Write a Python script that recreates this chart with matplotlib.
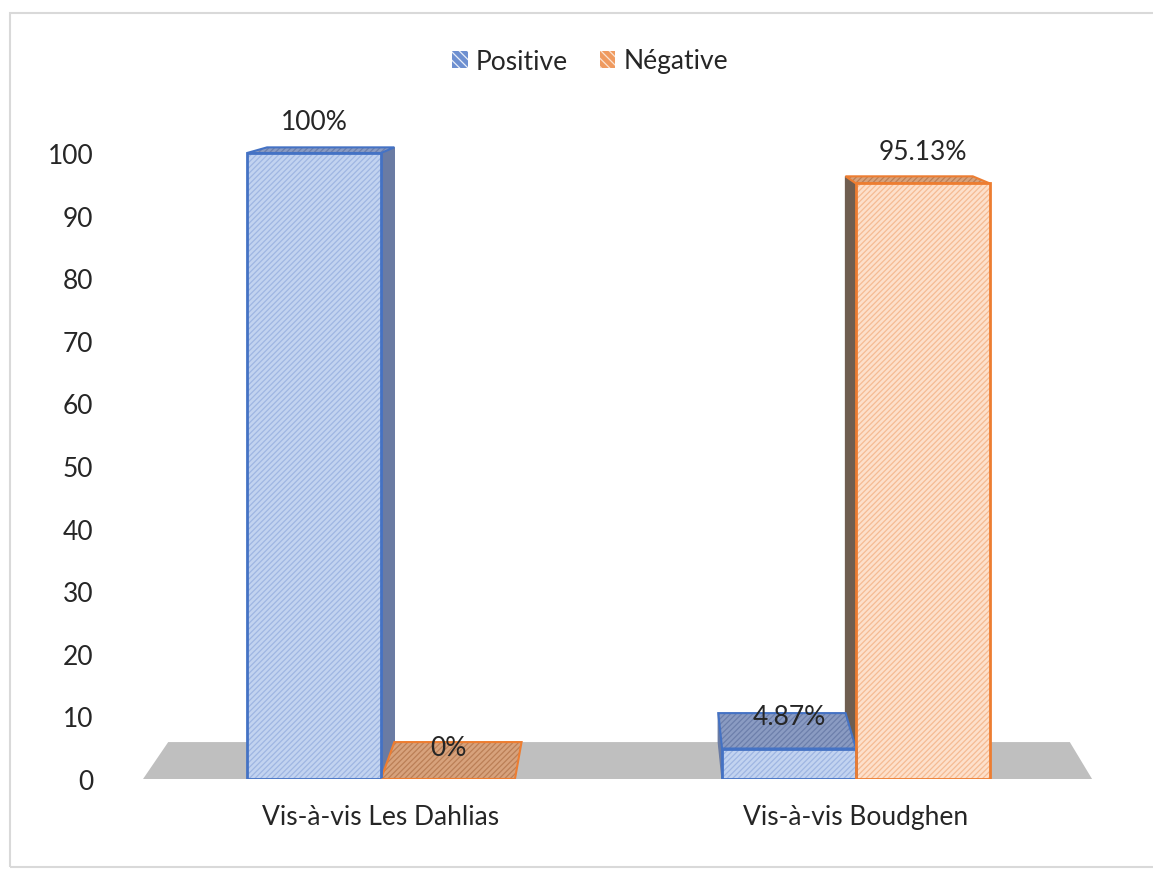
import matplotlib
matplotlib.use("Agg")
import matplotlib.pyplot as plt
from matplotlib.patches import Polygon, Patch, Rectangle
import numpy as np

# ---------------- data ----------------
categories = ["Vis-à-vis Les Dahlias", "Vis-à-vis Boudghen"]
positive = [100, 4.87]
negative = [0, 95.13]
positive_labels = ["100%", "4.87%"]
negative_labels = ["0%", "95.13%"]
series_names = ["Positive", "Négative"]
yticks = [0, 10, 20, 30, 40, 50, 60, 70, 80, 90, 100]

plt.rcParams["font.family"] = ["Lato", "DejaVu Sans"]
plt.rcParams["hatch.linewidth"] = 0.9

W, H = 1153, 870
fig = plt.figure(figsize=(W / 100, H / 100), dpi=100)

# axes placed in pixels: y=0 at 780px from top, 6.26 px per unit; x: group 0 at 381px, 475 px per group
px_unit_y = 6.26
px_unit_x = 475.0
x0_px, y0_px = 381.0, 780.0
ax_left, ax_right = 110, 1140
ymax = 110
ax = fig.add_axes([ax_left / W, (H - y0_px) / H, (ax_right - ax_left) / W, ymax * px_unit_y / H])
ax.set_xlim((ax_left - x0_px) / px_unit_x, (ax_right - x0_px) / px_unit_x)
ax.set_ylim(0, ymax)
for s in ax.spines.values():
    s.set_visible(False)

# fake perspective: back plane = scaled toward vanishing point
VX, VY, S = 0.56, 118.0, 0.95


def back(x, y):
    return VX + (x - VX) * S, VY + (y - VY) * S


# floor
xs = np.arange(len(categories))
fl, fr = xs[0] - 0.501, xs[-1] + 0.497
ax.add_patch(Polygon([(fl, 0), (fr, 0), back(fr, 0), back(fl, 0)],
                     closed=True, facecolor="#bfbfbf", edgecolor="none", zorder=1))

width = 0.282
styles = [
    dict(fill="#c2d3f0", hatch_c="#9fb6e2", edge="#4472c4",
         top="#8a9bc2", top_h="#6d7fab", side="#6a7ba3"),
    dict(fill="#fde0cb", hatch_c="#f5bb93", edge="#ed7d31",
         top="#d7a27c", top_h="#bb7f56", side="#6f5e50"),
]
series = [positive, negative]
offsets = [-width / 2, width / 2]

# side faces
for vals, off, st in zip(series, offsets, styles):
    for xc, h in zip(xs, vals):
        if h <= 0:
            continue
        a, b = xc + off - width / 2, xc + off + width / 2
        e = b if b < VX else a
        ax.add_patch(Polygon([(e, 0), (e, h), back(e, h), back(e, 0)], closed=True,
                             facecolor=st["side"], edgecolor=st["side"], lw=1.0, zorder=2))

# top faces
for vals, off, st in zip(series, offsets, styles):
    for xc, h in zip(xs, vals):
        a, b = xc + off - width / 2, xc + off + width / 2
        pts = [(a, h), (b, h), back(b, h), back(a, h)]
        ax.add_patch(Polygon(pts, closed=True, facecolor=st["top"], edgecolor=st["top_h"],
                             hatch="//////", lw=0, zorder=3))
        ax.add_patch(Polygon(pts, closed=True, fill=False, edgecolor=st["edge"], lw=1.5, zorder=3))

# front faces
for vals, off, st in zip(series, offsets, styles):
    ax.bar(xs + off, vals, width, color=st["fill"], edgecolor=st["hatch_c"], hatch="//////",
           linewidth=0, zorder=4)
    ax.bar(xs + off, vals, width, fill=False, edgecolor=st["edge"], linewidth=2, zorder=5)

# data labels
for vals, labs, off in zip(series, [positive_labels, negative_labels], offsets):
    for xc, h, lab in zip(xs, vals, labs):
        ax.annotate(lab, (xc + off, h), xytext=(0, 23), textcoords="offset points",
                    ha="center", va="center", fontsize=19, color="#262626", zorder=6)

ax.set_yticks(yticks)
ax.set_xticks(xs)
ax.set_xticklabels(categories)
ax.tick_params(axis="y", length=0, pad=12, labelsize=19, labelcolor="#262626")
ax.tick_params(axis="x", length=0, pad=18, labelsize=19, labelcolor="#262626")

leg_handles = [Patch(facecolor="#6d8fd0", edgecolor="#e9eff9", hatch="\\\\\\\\", lw=0),
               Patch(facecolor="#ef9a5f", edgecolor="#fbe3d2", hatch="\\\\\\\\", lw=0)]
fig.legend(leg_handles, series_names, loc="center", bbox_to_anchor=(590 / W, 1 - 62 / H),
           ncol=2, frameon=False, fontsize=19, handlelength=0.6, handleheight=0.6,
           handletextpad=0.3, columnspacing=1.2, labelcolor="#262626")

# chart border (right edge falls outside the picture, as in the reference)
fig.patches.append(Rectangle((10 / W, 2 / H), 1160 / W, (H - 16) / H, transform=fig.transFigure,
                             fill=False, edgecolor="#d9d9d9", lw=1.5))

fig.savefig("out.png", dpi=100, facecolor="white")
